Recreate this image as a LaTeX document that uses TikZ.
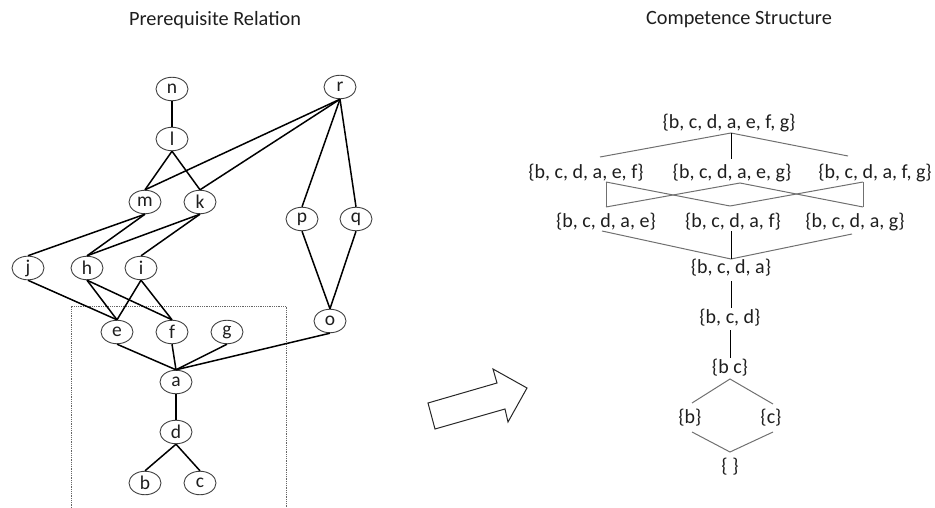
\documentclass[tikz,border=0pt]{standalone}
\usepackage{fontspec}
\setmainfont{Carlito}
\usetikzlibrary{shapes.geometric}
\definecolor{txt}{HTML}{1E1E1E}
\definecolor{ln}{HTML}{707070}
\begin{document}
\begin{tikzpicture}[x=1pt,y=-1pt,
  vtx/.style={ellipse,draw=black!75,line width=0.9pt,minimum width=32pt,minimum height=23.5pt,inner sep=0pt,font=\fontsize{19.5}{19.5}\selectfont,text=txt},
  pe/.style={line width=1.5pt,black},
  setn/.style={inner sep=0pt,font=\fontsize{20}{20}\selectfont,text=txt},
  ttl/.style={inner sep=0pt,font=\fontsize{20.3}{20.3}\selectfont,text=txt},
  gl/.style={line width=1pt,ln},
  bl/.style={line width=1pt,black}]
\useasboundingbox (0,0) rectangle (935,508);
% titles
\node[ttl] (t1) at (215,20) {Prerequisite Relation};
\node[ttl] (t2) at (739,20) {Competence Structure};
% dotted box
\draw[densely dotted,black!60,line width=0.8pt] (71,508) -- (71,306) -- (286,306) -- (286,508);
% vertices
\node[vtx] (n) at (172,89) {n};
\node[vtx] (r) at (340,87) {r};
\node[vtx] (l) at (172,139) {l};
\node[vtx] (m) at (145,202) {m};
\node[vtx] (k) at (200,202) {k};
\node[vtx] (p) at (302,219) {p};
\node[vtx] (q) at (356,219) {q};
\node[vtx] (j) at (28,268) {j};
\node[vtx] (h) at (87,268) {h};
\node[vtx] (i) at (141,268) {i};
\node[vtx] (o) at (330,321) {o};
\node[vtx] (e) at (117,332) {e};
\node[vtx] (f) at (172,332) {f};
\node[vtx] (g) at (227,332) {g};
\node[vtx] (a) at (176,382) {a};
\node[vtx] (d) at (176,432) {d};
\node[vtx] (b) at (145,483) {b};
\node[vtx] (c) at (200,483) {c};
% prerequisite edges
\foreach \u/\v in {n/l,l/m,l/k,r/m,r/k,r/p,r/q,m/j,m/h,k/h,k/i,p/o,q/o,j/e,h/e,h/f,i/e,i/f,e/a,f/a,g/a,o/a,a/d,d/b,d/c}
  \draw[pe] (\u.south) -- (\v.north);
% big arrow
\draw[line width=1pt,black!85,line join=miter] (428,403) -- (497,383) -- (493,369) -- (527,388) -- (508,422) -- (505,409) -- (435,429) -- cycle;
% competence structure
\node[setn] (T) at (729,123) {\{b, c, d, a, e, f, g\}};
\node[setn] (A) at (586,173) {\{b, c, d, a, e, f\}};
\node[setn] (B) at (732,173) {\{b, c, d, a, e, g\}};
\node[setn] (C) at (875,173) {\{b, c, d, a, f, g\}};
\node[setn] (D) at (606,222) {\{b, c, d, a, e\}};
\node[setn] (E) at (733,222) {\{b, c, d, a, f\}};
\node[setn] (F) at (855,222) {\{b, c, d, a, g\}};
\node[setn] (G) at (731,268) {\{b, c, d, a\}};
\node[setn] (H) at (730,318) {\{b, c, d\}};
\node[setn] (I) at (730,368) {\{b c\}};
\node[setn] (J) at (690,418) {\{b\}};
\node[setn] (K) at (771,418) {\{c\}};
\node[setn] (L) at (730,467) {\{ \}};
% connector end points
\coordinate (Tb) at (731,133);
\coordinate (At) at (600,157); \coordinate (Bt) at (731,159); \coordinate (Ct) at (848,156);
\coordinate (Ab) at (606,182); \coordinate (Bb) at (740,183); \coordinate (Cb) at (863,182);
\coordinate (Dt) at (606,207); \coordinate (Et) at (730,206); \coordinate (Ft) at (863,207);
\coordinate (Db) at (602,231); \coordinate (Eb) at (731,231); \coordinate (Fb) at (852,234);
\coordinate (Gt) at (731,259); \coordinate (Gb) at (731,281);
\coordinate (Ht) at (731,308); \coordinate (Hb) at (730,330);
\coordinate (It) at (730,358); \coordinate (Ib) at (730,379);
\coordinate (Jt) at (692,403); \coordinate (Jb) at (692,432);
\coordinate (Kt) at (773,404); \coordinate (Kb) at (773,432);
\coordinate (Lt) at (730,452);
\draw[gl] (At) -- (Tb) -- (Ct);
\draw[bl] (Tb) -- (Bt);
\draw[gl] (Ab) -- (Dt);
\draw[gl] (Ab) -- (Et);
\draw[gl] (Dt) -- (Bb) -- (Ft);
\draw[gl] (Cb) -- (Ft);
\draw[gl] (Cb) -- (Et);
\draw[gl] (Db) -- (Gt) -- (Fb);
\draw[bl] (Eb) -- (Gt);
\draw[bl] (Gb) -- (Ht);
\draw[bl] (Hb) -- (It);
\draw[gl] (Jt) -- (Ib) -- (Kt);
\draw[gl] (Jb) -- (Lt) -- (Kb);
\end{tikzpicture}
\end{document}
